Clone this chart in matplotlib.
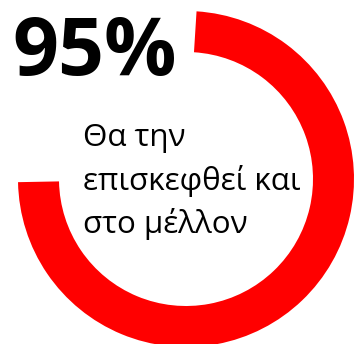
import matplotlib
matplotlib.use("Agg")
import matplotlib.pyplot as plt

# Headline figure and caption
headline = "95%"
caption_lines = ["Θα την", "επισκεφθεί και", "στο μέλλον"]

# Ring: filled arc and open gap (percent of the full circle)
ring_shares = [73.7, 26.3]
ring_colors = ["#ff0000", "none"]

W, H = 355, 344
fig = plt.figure(figsize=(W / 100, H / 100), dpi=100)
ax = fig.add_axes([0, 0, 1, 1])

ax.pie(ring_shares, colors=ring_colors, startangle=86.4, counterclock=False,
       radius=168, center=(186, H - 179),
       wedgeprops=dict(width=41, linewidth=0))

ax.set_xlim(0, W)
ax.set_ylim(0, H)
ax.set_aspect("equal")
ax.axis("off")

ax.text(12, H - 75, headline, fontsize=58, fontweight="bold",
        family=["Open Sans", "DejaVu Sans"], color="black",
        ha="left", va="baseline")

baselines = [146, 190, 233]
for line, yb in zip(caption_lines, baselines):
    ax.text(83, H - yb, line, fontsize=22.6,
            family=["Open Sans", "DejaVu Sans"], color="black",
            ha="left", va="baseline")

fig.savefig("out.png", dpi=100, facecolor="white")
